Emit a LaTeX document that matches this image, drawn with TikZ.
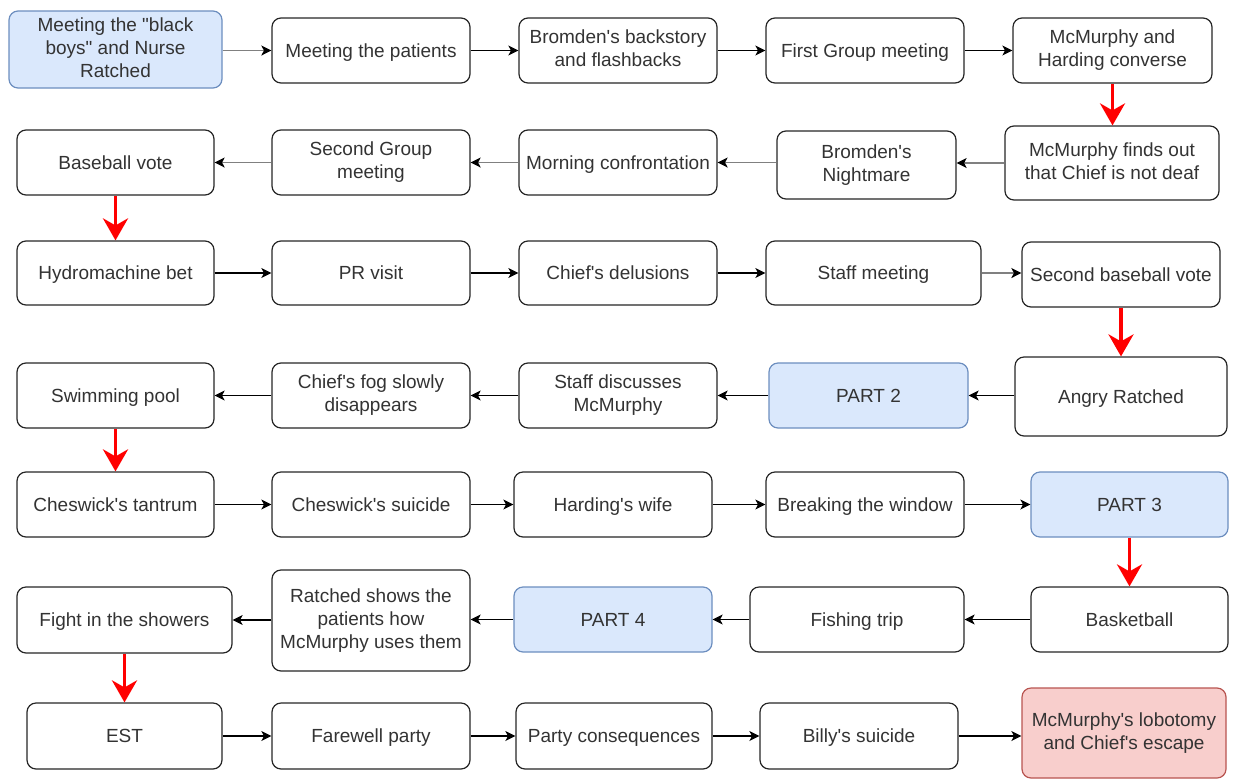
\documentclass[tikz,border=0pt]{standalone}
\usepackage{fontspec}
\setmainfont{Liberation Sans}[Ligatures=TeXOff]
\usetikzlibrary{arrows.meta}
\definecolor{bluefill}{HTML}{DAE8FC}
\definecolor{blueline}{HTML}{6C8EBF}
\definecolor{redfill}{HTML}{F8CECC}
\definecolor{redline}{HTML}{B85450}
\definecolor{txt}{HTML}{333333}
\definecolor{redarrow}{HTML}{FF0000}
\newcommand{\mystrut}{\rule[-4.4pt]{0pt}{22.4pt}}
\tikzset{
  box/.style={draw=black!85, line width=1.2pt, rounded corners=9pt, fill=white,
    align=center, inner sep=2pt, text=txt, font=\fontsize{19}{23}\selectfont,
    execute at begin node={\mystrut}, execute at end node={\mystrut}},
  bluebox/.style={box, draw=blueline, fill=bluefill},
  redbox/.style={box, draw=redline, fill=redfill},
  arr/.style={draw=black, line width=1.1pt, -{Stealth[length=10pt,width=10pt,inset=2.5pt]}},
  garr/.style={draw=black!50, line width=1.5pt, -{Stealth[black,length=10pt,width=10pt,inset=2.5pt]}},
  rarr/.style={draw=redarrow, line width=3.5pt, -{Stealth[length=22pt,width=25pt,inset=7pt]}},
}
\begin{document}
\begin{tikzpicture}[x=1pt,y=-1pt]
\useasboundingbox (0,0) rectangle (1235,780);
% Row 1
\node[bluebox, minimum width=213pt, minimum height=77pt] (A1) at (115.5,49.5) {Meeting the "black\\boys" and Nurse\\Ratched};
\node[box, minimum width=198pt, minimum height=65pt] (A2) at (371,50.5) {Meeting the patients};
\node[box, minimum width=198pt, minimum height=65pt] (A3) at (618,50.5) {Bromden's backstory\\and flashbacks};
\node[box, minimum width=198pt, minimum height=65pt] (A4) at (865,50.5) {First Group meeting};
\node[box, minimum width=199pt, minimum height=65pt] (A5) at (1112.5,50.5) {McMurphy and\\Harding converse};
% Row 2
\node[box, minimum width=197pt, minimum height=65pt] (B1) at (115.5,162.5) {Baseball vote};
\node[box, minimum width=198pt, minimum height=65pt] (B2) at (371,162.5) {Second Group\\meeting};
\node[box, minimum width=198pt, minimum height=65pt] (B3) at (618,162.5) {Morning confrontation};
\node[box, minimum width=179pt, minimum height=68pt] (B4) at (866.5,165) {Bromden's\\Nightmare};
\node[box, minimum width=214pt, minimum height=74pt] (B5) at (1112,163) {McMurphy finds out\\that Chief is not deaf};
% Row 3
\node[box, minimum width=197pt, minimum height=64pt] (C1) at (115.5,273) {Hydromachine bet};
\node[box, minimum width=198pt, minimum height=64pt] (C2) at (371,273) {PR visit};
\node[box, minimum width=198pt, minimum height=64pt] (C3) at (618,273) {Chief's delusions};
\node[box, minimum width=215pt, minimum height=64pt] (C4) at (873.5,273) {Staff meeting};
\node[box, minimum width=198pt, minimum height=65pt] (C5) at (1121,274.5) {Second baseball vote};
% Row 4
\node[box, minimum width=197pt, minimum height=65pt] (D1) at (115.5,395.5) {Swimming pool};
\node[box, minimum width=198pt, minimum height=65pt] (D2) at (371,395.5) {Chief's fog slowly\\disappears};
\node[box, minimum width=198pt, minimum height=65pt] (D3) at (618,395.5) {Staff discusses\\McMurphy};
\node[bluebox, minimum width=199pt, minimum height=65pt] (D4) at (868.5,395.5) {PART 2};
\node[box, minimum width=212pt, minimum height=79pt] (D5) at (1121,396.5) {Angry Ratched};
% Row 5
\node[box, minimum width=197pt, minimum height=65pt] (E1) at (115.5,504.5) {Cheswick's tantrum};
\node[box, minimum width=198pt, minimum height=65pt] (E2) at (371,504.5) {Cheswick's suicide};
\node[box, minimum width=198pt, minimum height=65pt] (E3) at (613,504.5) {Harding's wife};
\node[box, minimum width=198pt, minimum height=65pt] (E4) at (865,504.5) {Breaking the window};
\node[bluebox, minimum width=197pt, minimum height=65pt] (E5) at (1129.5,504.5) {PART 3};
% Row 6
\node[box, minimum width=215pt, minimum height=66pt] (F1) at (124.5,620) {Fight in the showers};
\node[box, minimum width=198pt, minimum height=101pt] (F2) at (371,620.5) {Ratched shows the\\patients how\\McMurphy uses them};
\node[bluebox, minimum width=198pt, minimum height=65pt] (F3) at (613,619.5) {PART 4};
\node[box, minimum width=214pt, minimum height=65pt] (F4) at (857,619.5) {Fishing trip};
\node[box, minimum width=197pt, minimum height=65pt] (F5) at (1129.5,619.5) {Basketball};
% Row 7
\node[box, minimum width=195pt, minimum height=66pt] (G1) at (124.5,736) {EST};
\node[box, minimum width=198pt, minimum height=66pt] (G2) at (371,736) {Farewell party};
\node[box, minimum width=196pt, minimum height=66pt] (G3) at (614,736) {Party consequences};
\node[box, minimum width=198pt, minimum height=66pt] (G4) at (859,736) {Billy's suicide};
\node[redbox, minimum width=204pt, minimum height=90pt] (G5) at (1124,733) {McMurphy's lobotomy\\and Chief's escape};
% Row 1 arrows
\draw[garr] (A1.east |- A2.west) -- (A2.west);
\draw[arr] (A2) -- (A3);
\draw[arr] (A3) -- (A4);
\draw[arr] (A4) -- (A5);
\draw[rarr] (A5.south) -- (B5.north -| A5.south);
% Row 2 arrows
\draw[garr] (B5.west) -- (B5.west -| B4.east);
\draw[garr] (B4.west |- B3.east) -- (B3.east);
\draw[garr] (B3) -- (B2);
\draw[garr] (B2) -- (B1);
\draw[rarr] (B1.south) -- (C1.north);
% Row 3 arrows
\draw[arr] (C1) -- (C2);
\draw[arr] (C2) -- (C3);
\draw[arr] (C3) -- (C4);
\draw[garr] (C4.east) -- (C4.east -| C5.west);
\draw[rarr] (C5.south) -- (D5.north);
% Row 4 arrows
\draw[arr] (D5.west |- D4.east) -- (D4.east);
\draw[arr] (D4) -- (D3);
\draw[arr] (D3) -- (D2);
\draw[arr] (D2) -- (D1);
\draw[rarr] (D1.south) -- (E1.north);
% Row 5 arrows
\draw[arr] (E1) -- (E2);
\draw[arr] (E2) -- (E3);
\draw[arr] (E3) -- (E4);
\draw[arr] (E4) -- (E5);
\draw[rarr] (E5.south) -- (F5.north);
% Row 6 arrows
\draw[arr] (F5) -- (F4);
\draw[arr] (F4) -- (F3);
\draw[arr] (F3) -- (F3.west -| F2.east);
\draw[arr] (F2.west |- F1.east) -- (F1.east);
\draw[rarr] (F1.south) -- (G1.north);
% Row 7 arrows
\draw[arr] (G1) -- (G2);
\draw[arr] (G2) -- (G3);
\draw[arr] (G3) -- (G4);
\draw[arr] (G4.east) -- (G4.east -| G5.west);
\end{tikzpicture}
\end{document}
